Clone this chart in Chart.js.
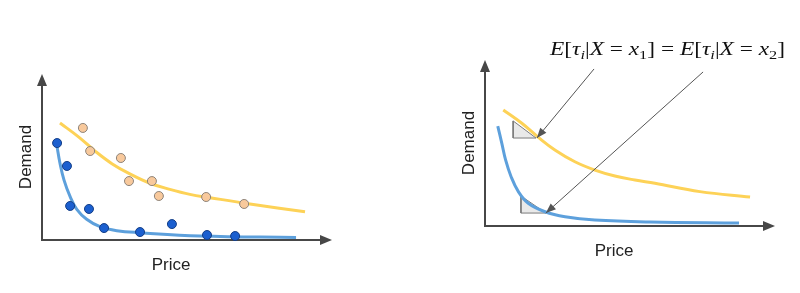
<!DOCTYPE html>
<html>
<head>
<meta charset="utf-8">
<script src="https://cdn.jsdelivr.net/npm/chart.js@4"></script>
<style>
  html, body { margin: 0; padding: 0; background: #fff; }
  #wrap { position: relative; width: 800px; height: 293px; }
  #left_chart, #right_chart { position: absolute; top: 0; }
  #left_chart { left: 0; }
  #right_chart { left: 400px; }
</style>
</head>
<body>
<div id="wrap">
  <canvas id="left_chart" width="400" height="293"></canvas>
  <canvas id="right_chart" width="400" height="293"></canvas>
</div>
<script>
// left panel: observed points and fitted curves
const leftBlueX = [0.52, 0.86, 0.97, 1.62, 2.14, 3.38, 4.48, 5.69, 6.66];
const leftBlueY = [5.84, 4.46, 2.05, 1.87, 0.72, 0.48, 0.96, 0.30, 0.24];
const leftOrangeX = [1.41, 1.66, 2.72, 3.0, 3.79, 4.03, 5.66, 6.97];
const leftOrangeY = [6.75, 5.36, 4.94, 3.55, 3.55, 2.65, 2.59, 2.17];
const leftYellowX = [0.62, 1.27, 1.84, 2.41, 3.03, 3.72, 4.41, 5.10, 5.79, 7.17, 9.07];
const leftYellowY = [7.05, 6.2, 5.34, 4.6, 3.98, 3.42, 3.05, 2.75, 2.55, 2.17, 1.70];
const leftBlueFitX = [0.51, 0.62, 0.76, 0.97, 1.20, 1.54, 2.0, 2.58, 3.38, 5.45, 8.76];
const leftBlueFitY = [5.72, 4.62, 3.61, 2.61, 1.85, 1.25, 0.80, 0.56, 0.44, 0.24, 0.15];

// right panel: curves, slope triangles, arrows
const rightYellowX = [0.63, 1.27, 1.84, 2.41, 3.10, 3.79, 4.48, 5.17, 5.86, 7.41, 9.14];
const rightYellowY = [6.99, 6.19, 5.34, 4.58, 3.87, 3.37, 3.01, 2.77, 2.57, 2.07, 1.75];
const rightBlueX = [0.44, 0.58, 0.71, 0.90, 1.15, 1.49, 2.07, 2.76, 3.79, 5.69, 8.76];
const rightBlueY = [6.02, 4.98, 3.98, 2.97, 2.07, 1.37, 0.86, 0.56, 0.36, 0.24, 0.18];
const triUpperX = [0.97, 0.97, 1.76, 0.97];
const triUpperY = [6.33, 5.3, 5.3, 6.33];
const triLowerX = [1.24, 1.24, 2.10, 1.24];
const triLowerY = [1.81, 0.78, 0.78, 1.81];
const arrowUpperX = [3.76, 1.79];
const arrowUpperY = [9.46, 5.3];
const arrowLowerX = [7.52, 2.10];
const arrowLowerY = [9.28, 0.78];

const xTitle = "Price";
const yTitle = "Demand";
// [text, italic, subscript]
const mathLabel = [
  ["E", true, false], ["[", false, false], ["τ", true, false], ["i", true, true],
  ["|", false, false], ["X", true, false], [" = ", false, false], ["x", true, false],
  ["1", false, true], ["]", false, false], [" = ", false, false],
  ["E", true, false], ["[", false, false], ["τ", true, false], ["i", true, true],
  ["|", false, false], ["X", true, false], [" = ", false, false], ["x", true, false],
  ["2", false, true], ["]", false, false]
];

function pts(xs, ys) {
  return xs.map(function (x, i) { return { x: x, y: ys[i] }; });
}

const BLUE_LINE = "#5da0dc";
const YELLOW_LINE = "#fdd257";

function curve(xs, ys, color) {
  return {
    type: "line", data: pts(xs, ys), borderColor: color, borderWidth: 3,
    pointRadius: 0, tension: 0.4, fill: false, clip: false
  };
}

function arrowHead(ctx, x0, y0, x1, y1, len, half, color) {
  const a = Math.atan2(y1 - y0, x1 - x0);
  ctx.save();
  ctx.fillStyle = color;
  ctx.beginPath();
  ctx.moveTo(x1, y1);
  ctx.lineTo(x1 - len * Math.cos(a) + half * Math.sin(a), y1 - len * Math.sin(a) - half * Math.cos(a));
  ctx.lineTo(x1 - len * Math.cos(a) - half * Math.sin(a), y1 - len * Math.sin(a) + half * Math.cos(a));
  ctx.closePath();
  ctx.fill();
  ctx.restore();
}

const sketchAxes = {
  id: "sketchAxes",
  beforeDatasetsDraw: function (chart) {
    const ctx = chart.ctx;
    const a = chart.chartArea;
    ctx.save();
    ctx.strokeStyle = "#474747";
    ctx.lineWidth = 2;
    ctx.beginPath();
    ctx.moveTo(a.left, a.top + 8);
    ctx.lineTo(a.left, a.bottom);
    ctx.lineTo(a.right - 8, a.bottom);
    ctx.stroke();
    ctx.restore();
    arrowHead(ctx, a.left, a.bottom, a.right, a.bottom, 12, 5, "#474747");
    arrowHead(ctx, a.left, a.bottom, a.left, a.top, 12, 5, "#474747");

    ctx.save();
    ctx.fillStyle = "#222";
    ctx.font = "17px 'Liberation Sans', Arial, sans-serif";
    ctx.textAlign = "center";
    ctx.textBaseline = "middle";
    ctx.fillText(xTitle, (a.left + a.right) / 2 - 16, a.bottom + 25);
    ctx.translate(a.left - 16, (a.top + a.bottom) / 2);
    ctx.rotate(-Math.PI / 2);
    ctx.fillText(yTitle, 0, 0);
    ctx.restore();
  },
  afterDatasetsDraw: function (chart) {
    const ctx = chart.ctx;
    chart.data.datasets.forEach(function (ds, i) {
      if (!ds.arrow) return;
      const d = chart.getDatasetMeta(i).data;
      const p0 = d[d.length - 2], p1 = d[d.length - 1];
      arrowHead(ctx, p0.x, p0.y, p1.x, p1.y, 10, 4, "#555");
    });
    const opts = chart.options.plugins.sketchAxes;
    if (!opts || !opts.math) return;
    const a = chart.chartArea;
    const size = 18;
    const font = function (it, sub) {
      return (it ? "italic " : "") + (sub ? size * 0.7 : size) + "px 'Liberation Serif', 'DejaVu Serif', serif";
    };
    ctx.save();
    let w = 0;
    mathLabel.forEach(function (p) { ctx.font = font(p[1], p[2]); w += ctx.measureText(p[0]).width; });
    const target = 235;
    const sx = target / w;
    ctx.translate(a.right + 10 - target, 55);
    ctx.scale(sx, 1);
    ctx.fillStyle = "#111";
    ctx.textBaseline = "alphabetic";
    let x = 0;
    mathLabel.forEach(function (p) {
      ctx.font = font(p[1], p[2]);
      ctx.fillText(p[0], x, p[2] ? 4 : 0);
      x += ctx.measureText(p[0]).width;
    });
    ctx.restore();
  }
};

const baseOptions = function (padding, math) {
  return {
    responsive: false,
    animation: false,
    layout: { padding: padding },
    scales: {
      x: { type: "linear", min: 0, max: 10, display: false },
      y: { type: "linear", min: 0, max: 10, display: false }
    },
    plugins: {
      legend: { display: false },
      tooltip: { enabled: false },
      sketchAxes: { math: math }
    }
  };
};

new Chart("left_chart", {
  type: "scatter",
  data: {
    datasets: [
      {
        data: pts(leftBlueX, leftBlueY), backgroundColor: "#1b5fcf",
        borderColor: "#143e86", borderWidth: 1, pointRadius: 4.5, clip: false
      },
      {
        data: pts(leftOrangeX, leftOrangeY), backgroundColor: "#f8c99c",
        borderColor: "#8d8379", borderWidth: 1, pointRadius: 4.5, clip: false
      },
      curve(leftBlueFitX, leftBlueFitY, BLUE_LINE),
      curve(leftYellowX, leftYellowY, YELLOW_LINE)
    ]
  },
  options: baseOptions({ left: 42, right: 68, top: 74, bottom: 53 }, false),
  plugins: [sketchAxes]
});

new Chart("right_chart", {
  type: "scatter",
  data: {
    datasets: [
      {
        type: "line", data: pts(arrowUpperX, arrowUpperY), borderColor: "#555",
        borderWidth: 1, pointRadius: 0, arrow: true, clip: false
      },
      {
        type: "line", data: pts(arrowLowerX, arrowLowerY), borderColor: "#555",
        borderWidth: 1, pointRadius: 0, arrow: true, clip: false
      },
      curve(rightBlueX, rightBlueY, BLUE_LINE),
      curve(rightYellowX, rightYellowY, YELLOW_LINE),
      {
        type: "line", data: pts(triUpperX, triUpperY), borderColor: "#7a7a7a",
        backgroundColor: "#e9e9e9", borderWidth: 1, pointRadius: 0, tension: 0, fill: "shape", clip: false
      },
      {
        type: "line", data: pts(triLowerX, triLowerY), borderColor: "#7a7a7a",
        backgroundColor: "#e9e9e9", borderWidth: 1, pointRadius: 0, tension: 0, fill: "shape", clip: false
      }
    ]
  },
  options: baseOptions({ left: 85, right: 25, top: 60, bottom: 67 }, true),
  plugins: [sketchAxes]
});
</script>
</body>
</html>
